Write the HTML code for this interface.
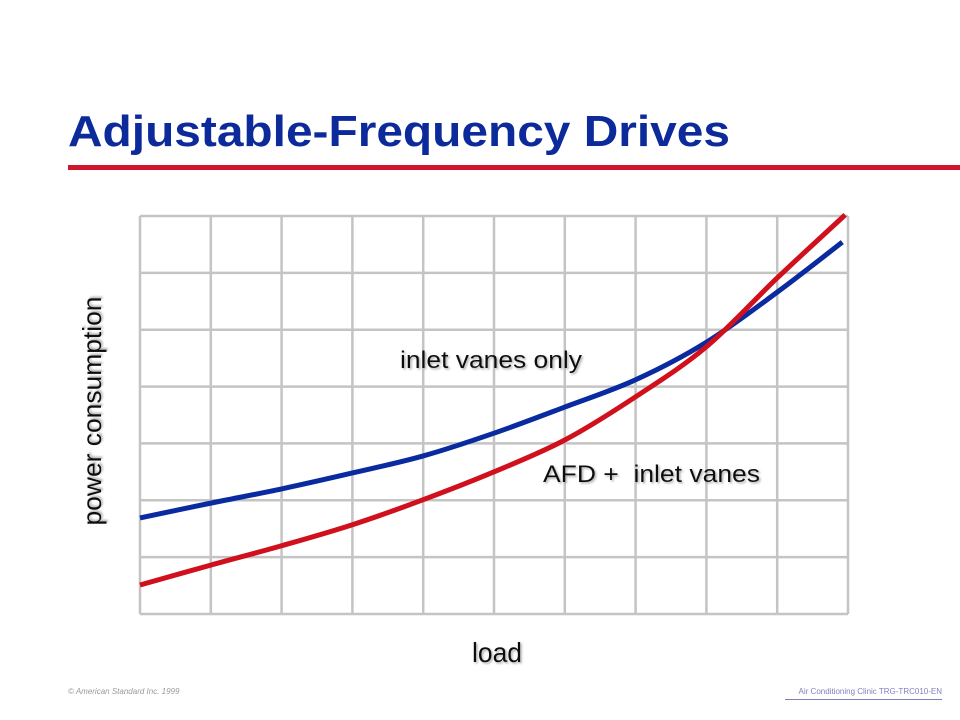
<!DOCTYPE html>
<html><head><meta charset="utf-8"><style>
body{margin:0;background:#fff;width:960px;height:720px;overflow:hidden}
svg{display:block}
text{font-family:"Liberation Sans",Arial,sans-serif}
</style></head><body>
<svg id="chart" width="960" height="720" xmlns="http://www.w3.org/2000/svg">
<defs><filter id="sh" x="-10%" y="-10%" width="120%" height="130%"><feDropShadow dx="1.5" dy="1.5" stdDeviation="1" flood-color="#999" flood-opacity="0.8"/></filter></defs>
<text x="68" y="146" font-size="44" font-weight="bold" fill="#0d2a9a" textLength="662" lengthAdjust="spacingAndGlyphs">Adjustable-Frequency Drives</text>
<rect x="68" y="165" width="892" height="5" fill="#d0152e"/>
<g id="grid"></g>
<g id="series"></g>
<text x="400" y="368" font-size="24" fill="#111" textLength="182" lengthAdjust="spacingAndGlyphs" filter="url(#sh)">inlet vanes only</text>
<text x="543" y="482" font-size="24" fill="#111" textLength="217" lengthAdjust="spacingAndGlyphs" filter="url(#sh)" xml:space="preserve">AFD +  inlet vanes</text>
<text x="497" y="662" font-size="28" fill="#111" text-anchor="middle" textLength="50" lengthAdjust="spacingAndGlyphs" filter="url(#sh)">load</text>
<text transform="translate(101,411) rotate(-90)" font-size="26" fill="#111" text-anchor="middle" textLength="229" lengthAdjust="spacingAndGlyphs" filter="url(#sh)">power consumption</text>
<text x="68" y="694" font-size="8" font-style="italic" fill="#999">© American Standard Inc. 1999</text>
<text x="942" y="694" font-size="8" fill="#8080c0" text-anchor="end">Air Conditioning Clinic TRG-TRC010-EN</text>
<rect x="785" y="699" width="157" height="1" fill="#8080c0"/>
</svg>
<script>
const xGridLines=[0,1,2,3,4,5,6,7,8,9,10];
const yGridLines=[0,1,2,3,4,5,6,7];
const loadX=[0,1,2,3,4,5,6,7,8,9,9.92];
const inletVanesOnly=[1.69,1.95,2.20,2.48,2.78,3.18,3.64,4.12,4.78,5.66,6.54];
const loadXAfd=[0,1,2,3,4,5,6,7,8,9,9.96];
const afdInletVanes=[0.51,0.86,1.20,1.57,2.01,2.50,3.06,3.82,4.70,5.91,7.02];
const X0=140,X1=848,Y0=614,Y1=216;
const sx=v=>X0+v*(X1-X0)/10;
const sy=v=>Y0-v*(Y0-Y1)/7;
const NS='http://www.w3.org/2000/svg';
const grid=document.getElementById('grid');
xGridLines.forEach(v=>{const l=document.createElementNS(NS,'line');
l.setAttribute('x1',sx(v));l.setAttribute('x2',sx(v));l.setAttribute('y1',Y1);l.setAttribute('y2',Y0);
l.setAttribute('stroke','#c4c4c4');l.setAttribute('stroke-width','2.5');


grid.appendChild(l);});
yGridLines.forEach(v=>{const l=document.createElementNS(NS,'line');
l.setAttribute('x1',X0);l.setAttribute('x2',X1);l.setAttribute('y1',sy(v));l.setAttribute('y2',sy(v));
l.setAttribute('stroke','#c4c4c4');l.setAttribute('stroke-width','2.5');


grid.appendChild(l);});
function smooth(xs,ys){const p=xs.map((x,i)=>[sx(x),sy(ys[i])]);let d='M'+p[0][0]+','+p[0][1];
for(let i=0;i<p.length-1;i++){const a=p[Math.max(0,i-1)],b=p[i],c=p[i+1],e=p[Math.min(p.length-1,i+2)];
d+=' C'+(b[0]+(c[0]-a[0])/6)+','+(b[1]+(c[1]-a[1])/6)+' '+(c[0]-(e[0]-b[0])/6)+','+(c[1]-(e[1]-b[1])/6)+' '+c[0]+','+c[1];}return d;}
const ser=document.getElementById('series');
const b=document.createElementNS(NS,'path');b.setAttribute('d',smooth(loadX,inletVanesOnly));
b.setAttribute('fill','none');b.setAttribute('stroke','#0a2aa0');b.setAttribute('stroke-width','5');


ser.appendChild(b);
const r=document.createElementNS(NS,'path');r.setAttribute('d',smooth(loadXAfd,afdInletVanes));
r.setAttribute('fill','none');r.setAttribute('stroke','#d0101c');r.setAttribute('stroke-width','5');


ser.appendChild(r);
</script>
</body></html>
